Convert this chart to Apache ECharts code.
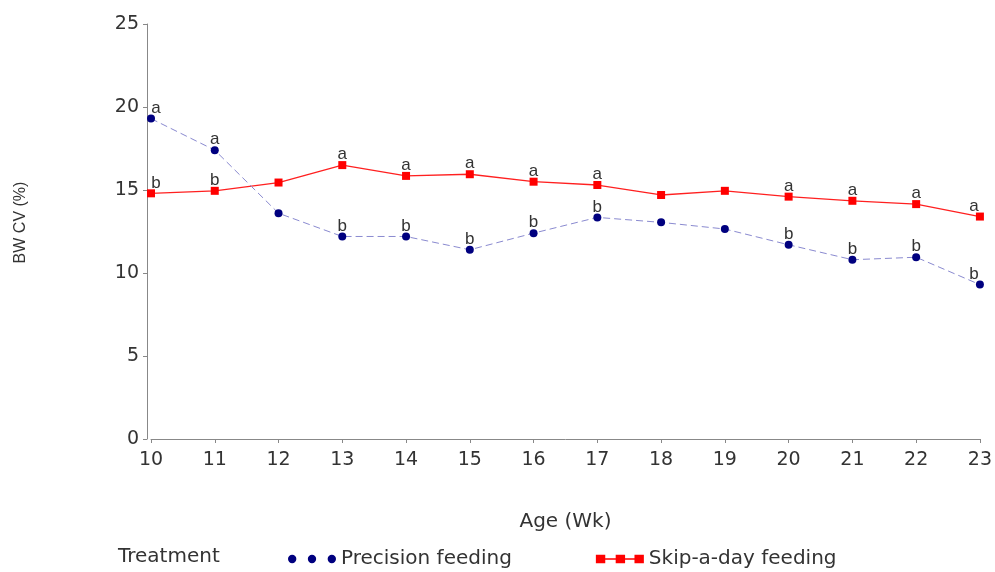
<!DOCTYPE html>
<html>
<head>
<meta charset="utf-8">
<script src="https://cdn.jsdelivr.net/npm/echarts@6/dist/echarts.min.js"></script>
<style>
  html, body { margin: 0; padding: 0; background: #fff; }
  #chart { width: 995px; height: 572px; }
</style>
</head>
<body>
<div id="chart"></div>
<script>
// Age in weeks
const ages = [10, 11, 12, 13, 14, 15, 16, 17, 18, 19, 20, 21, 22, 23]
const yTicks = [0, 5, 10, 15, 20, 25]

// BW CV (%) per treatment
const precisionCV = [19.3, 17.4, 13.6, 12.2, 12.2, 11.4, 12.4, 13.35, 13.05, 12.65, 11.7, 10.8, 10.95, 9.3]
const skipCV = [14.8, 14.95, 15.45, 16.5, 15.85, 15.95, 15.5, 15.3, 14.7, 14.95, 14.6, 14.35, 14.15, 13.4]

// significance letters ('' = none)
const precisionLetters = ['a', 'a', '', 'b', 'b', 'b', 'b', 'b', '', '', 'b', 'b', 'b', 'b']
const skipLetters = ['b', 'b', '', 'a', 'a', 'a', 'a', 'a', '', '', 'a', 'a', 'a', 'a']

const FONT = 'DejaVu Sans'
const TXT = '#333'

const chart = echarts.init(document.getElementById('chart'), null, { renderer: 'canvas' })

function pointsWithLetters(values, letters) {
  return values.map((v, i) => {
    const p = { value: [ages[i], v] }
    if (letters[i]) {
      let offset = [0, 2]
      if (i === 0) offset = [5, 2]
      if (i === values.length - 1) offset = [-6, 2]
      p.label = { show: true, formatter: letters[i], offset }
    }
    return p
  })
}

const letterLabel = {
  show: false,
  position: 'top',
  distance: 0,
  fontFamily: 'Liberation Sans',
  fontSize: 17,
  color: TXT,
}

const option = {
  animation: false,
  backgroundColor: '#fff',
  grid: { left: 151, right: 15, top: 24, bottom: 133 },
  xAxis: {
    type: 'value',
    min: 10,
    max: 23,
    interval: 1,
    offset: 3,
    name: 'Age (Wk)',
    nameLocation: 'middle',
    nameGap: 70,
    nameTextStyle: { fontFamily: FONT, fontSize: 20, color: TXT },
    axisLine: { show: true, lineStyle: { color: '#888', width: 1 } },
    axisTick: { show: true, length: 4, lineStyle: { color: '#888' } },
    axisLabel: { fontFamily: FONT, fontSize: 19, color: TXT, margin: 9 },
    splitLine: { show: false },
  },
  yAxis: {
    type: 'value',
    min: yTicks[0],
    max: yTicks[yTicks.length - 1],
    interval: 5,
    offset: 4,
    name: 'BW CV (%)',
    nameLocation: 'middle',
    nameGap: 118,
    nameRotate: 90,
    nameTextStyle: { fontFamily: 'Liberation Sans', fontSize: 16, color: TXT, padding: [0, 0, 0, 18] },
    axisLine: { show: true, lineStyle: { color: '#888', width: 1 } },
    axisTick: { show: true, length: 4, lineStyle: { color: '#888' } },
    axisLabel: { fontFamily: FONT, fontSize: 19, color: TXT, margin: 8 },
    splitLine: { show: false },
  },
  legend: {
    left: 283,
    top: 544,
    itemGap: 84,
    itemWidth: 48,
    itemHeight: 9,
    textStyle: { fontFamily: FONT, fontSize: 20, color: TXT },
    data: [
      {
        name: 'Precision feeding',
        icon: 'path://M0,4a4,4 0 1,0 8,0a4,4 0 1,0 -8,0M19,4a4,4 0 1,0 8,0a4,4 0 1,0 -8,0M38,4a4,4 0 1,0 8,0a4,4 0 1,0 -8,0',
      },
      {
        name: 'Skip-a-day feeding',
        icon: 'path://M0,0h9v8h-9zM9,3.3h10v1.4h-10zM19,0h9v8h-9zM28,3.3h9v1.4h-9zM37,0h9v8h-9z',
      },
    ],
  },
  graphic: [
    {
      type: 'text',
      left: 118,
      top: 547,
      style: { text: 'Treatment', font: '20px "DejaVu Sans"', fill: TXT },
    },
  ],
  series: [
    {
      name: 'Precision feeding',
      type: 'line',
      data: pointsWithLetters(precisionCV, precisionLetters),
      symbol: 'circle',
      symbolSize: 8,
      itemStyle: { color: '#00007f' },
      lineStyle: { color: '#8a8ad0', width: 1, type: [7, 4] },
      label: letterLabel,
      z: 3,
    },
    {
      name: 'Skip-a-day feeding',
      type: 'line',
      data: pointsWithLetters(skipCV, skipLetters),
      symbol: 'rect',
      symbolSize: 8,
      itemStyle: { color: '#ff0000' },
      lineStyle: { color: '#ff2020', width: 1.3 },
      label: letterLabel,
      z: 2,
    },
  ],
}

chart.setOption(option)
</script>
</body>
</html>
